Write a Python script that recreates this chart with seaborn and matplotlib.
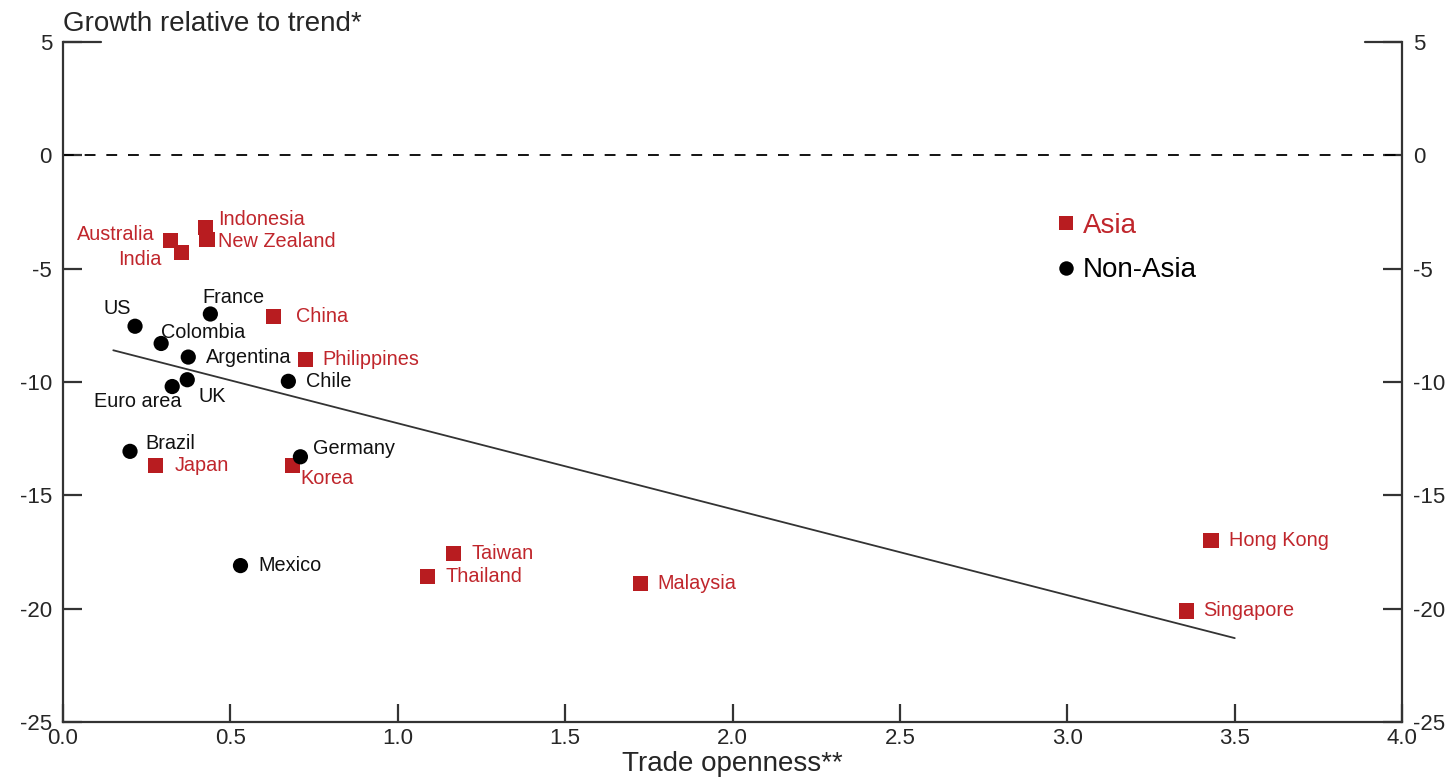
import numpy as np
import pandas as pd
import matplotlib
matplotlib.use("Agg")
import matplotlib.pyplot as plt
import seaborn as sns

# =====================
# DATA
# =====================

asia_names = ["Australia", "Indonesia", "New Zealand", "India", "China", "Philippines",
              "Japan", "Korea", "Taiwan", "Thailand", "Malaysia", "Hong Kong", "Singapore"]
asia_x = [0.32, 0.425, 0.43, 0.353, 0.628, 0.724, 0.275, 0.685, 1.167, 1.089, 1.726, 3.429, 3.357]
asia_y = [-3.75, -3.2, -3.7, -4.3, -7.1, -9.0, -13.7, -13.7, -17.55, -18.57, -18.88, -16.98, -20.1]

other_names = ["US", "France", "Colombia", "Argentina", "Euro area", "UK",
               "Chile", "Brazil", "Germany", "Mexico"]
other_x = [0.215, 0.44, 0.293, 0.374, 0.326, 0.371, 0.673, 0.2, 0.709, 0.53]
other_y = [-7.54, -7.0, -8.3, -8.9, -10.2, -9.9, -9.97, -13.06, -13.3, -18.1]

trend_x = [0.15, 3.5]
trend_y = [-8.6, -21.3]

# label offsets (points) and alignment
offsets = {
    "Australia": (-11, 4, "right"), "Indonesia": (9, 6, "left"), "New Zealand": (8, -2, "left"),
    "India": (-14, -5, "right"), "China": (16, 0, "left"), "Philippines": (12, 0, "left"),
    "Japan": (14, 0, "left"), "Korea": (6, -9, "left"), "Taiwan": (13, 0, "left"),
    "Thailand": (13, 0, "left"), "Malaysia": (12, 0, "left"), "Hong Kong": (13, 0, "left"),
    "Singapore": (12, 0, "left"),
    "US": (-3, 13, "right"), "France": (-6, 12, "left"), "Colombia": (0, 8, "left"),
    "Argentina": (13, 0, "left"), "Euro area": (7, -11, "right"), "UK": (8, -12, "left"),
    "Chile": (13, 0, "left"), "Brazil": (11, 6, "left"), "Germany": (9, 6, "left"),
    "Mexico": (13, 0, "left"),
}

df = pd.DataFrame({
    "name": asia_names + other_names,
    "x": asia_x + other_x,
    "y": asia_y + other_y,
    "region": ["Asia"] * len(asia_names) + ["Non-Asia"] * len(other_names),
})

RED = "#b81c20"
RED_TXT = "#c0262c"
BLACK = "#000000"

# =====================
# PLOT
# =====================

sns.set_style("white")
plt.rcParams["font.family"] = ["Liberation Sans", "DejaVu Sans"]
plt.rcParams["axes.unicode_minus"] = False

fig = plt.figure(figsize=(14.53, 7.78), dpi=100)
ax = fig.add_axes([0.0434, 0.072, 0.9216, 0.874])

ax.axhline(0, color="black", lw=1.3, ls=(0, (6, 6)), zorder=1)
ax.plot(trend_x, trend_y, color="#333333", lw=1.3, zorder=1)

sns.scatterplot(data=df, x="x", y="y", hue="region", style="region",
                palette={"Asia": RED, "Non-Asia": BLACK},
                markers={"Asia": "s", "Non-Asia": "o"},
                s=120, linewidth=0, ax=ax, zorder=3)

for _, r in df.iterrows():
    dx, dy, ha = offsets[r["name"]]
    col = RED_TXT if r["region"] == "Asia" else "#111111"
    ax.annotate(r["name"], (r["x"], r["y"]), xytext=(dx, dy), textcoords="offset points",
                ha=ha, va="center", fontsize=14.3, color=col)

ax.set_xlim(0, 4)
ax.set_ylim(-25, 5)
ax.set_xticks(np.arange(0, 4.01, 0.5))
ax.set_xticklabels([f"{v:.1f}" for v in np.arange(0, 4.01, 0.5)])
ax.set_yticks(np.arange(-25, 6, 5))

for side in ["left", "right", "bottom"]:
    ax.spines[side].set_visible(True)
    ax.spines[side].set_color("#333333")
    ax.spines[side].set_linewidth(1.6)
ax.spines["top"].set_visible(False)

ax.tick_params(axis="y", direction="in", length=14, width=1.6, color="#333333",
               left=True, right=True, labelleft=True, labelright=True,
               labelsize=16, pad=8)
ax.tick_params(axis="x", direction="in", length=13, width=1.6, color="#333333",
               bottom=True, labelsize=16, pad=4)

# short caps at top of the side axes
ax.plot([0, 0.028], [1, 1], transform=ax.transAxes, color="#333333", lw=1.6, clip_on=False)
ax.plot([0.972, 1], [1, 1], transform=ax.transAxes, color="#333333", lw=1.6, clip_on=False)

ax.set_xlabel("Trade openness**", fontsize=20, labelpad=2)
ax.set_ylabel("")
ax.text(0, 1.007, "Growth relative to trend*", transform=ax.transAxes,
        ha="left", va="bottom", fontsize=20)

leg = ax.legend(loc="upper left", bbox_to_anchor=(0.72, 0.786), frameon=False,
                fontsize=20, handletextpad=0.1, labelspacing=0.68, markerscale=0.95,
                handlelength=1.0)
for t in leg.get_texts():
    t.set_color(RED_TXT if t.get_text() == "Asia" else BLACK)

fig.savefig("out.png", dpi=100)
